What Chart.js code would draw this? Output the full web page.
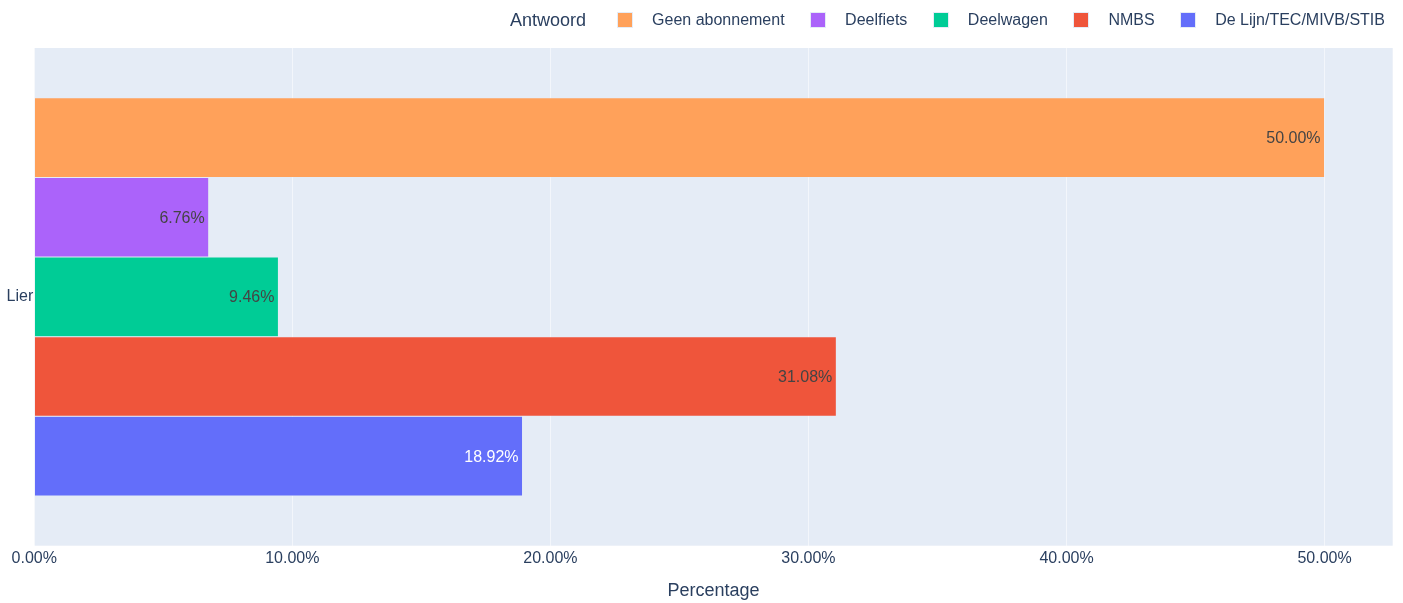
<!DOCTYPE html>
<html>
<head>
<meta charset="utf-8">
<script src="https://cdn.jsdelivr.net/npm/chart.js@4"></script>
<style>
  body { margin: 0; background: #fff; }
  #wrap { position: relative; width: 1403px; height: 603px; }
  #legend {
    position: absolute; top: 8px; left: 510px; height: 24px;
    display: flex; align-items: center;
    font-family: "Liberation Sans", Arial, sans-serif; color: #2a3f5f;
    white-space: nowrap;
  }
  #legend .title { font-size: 18px; margin-right: 31px; }
  #legend .item { display: flex; align-items: center; font-size: 16px; margin-right: 25.5px; }
  #legend .sw { flex-shrink: 0; width: 16px; height: 16px; margin-right: 19px; box-sizing: border-box; border: 0.5px solid #E5ECF6; }
</style>
</head>
<body>
<div id="wrap">
  <canvas id="chart" width="1403" height="603"></canvas>
  <div id="legend"></div>
</div>
<script>
// data
let categories = ["Lier"];
let seriesNames = ["Geen abonnement", "Deelfiets", "Deelwagen", "NMBS", "De Lijn/TEC/MIVB/STIB"];
let seriesValues = [50.00, 6.76, 9.46, 31.08, 18.92];
let seriesColors = ["#FFA15A", "#ab63fa", "#00cc96", "#EF553B", "#636efa"];
let labelColors = ["#444", "#444", "#444", "#444", "#fff"];
let xTicks = [0, 10, 20, 30, 40, 50];

const FONT = '"Liberation Sans", Arial, sans-serif';
const TEXT = "#2a3f5f";

// build html legend
let legend = document.getElementById("legend");
legend.innerHTML = `<span class="title">Antwoord</span>` + seriesNames.map((name, i) =>
    `<span class="item"><span class="sw" style="background:${seriesColors[i]}"></span>${name}</span>`
).join("");

// plot background
const bgPlugin = {
    id: "plotBg",
    beforeDraw(chart) {
        const { ctx, chartArea: a } = chart;
        ctx.save();
        ctx.fillStyle = "#E5ECF6";
        ctx.fillRect(a.left, a.top, a.right - a.left, a.bottom - a.top);
        ctx.restore();
    }
};

// value labels inside bar ends
const labelPlugin = {
    id: "barLabels",
    afterDatasetsDraw(chart) {
        const ctx = chart.ctx;
        ctx.save();
        ctx.font = "16px " + FONT;
        ctx.textAlign = "right";
        ctx.textBaseline = "middle";
        chart.data.datasets.forEach((ds, i) => {
            chart.getDatasetMeta(i).data.forEach((bar, j) => {
                ctx.fillStyle = labelColors[i];
                ctx.fillText(ds.data[j].toFixed(2) + "%", bar.x - 4, bar.y + 1);
            });
        });
        ctx.restore();
    }
};

new Chart(document.getElementById("chart"), {
    type: "bar",
    data: {
        labels: categories,
        datasets: seriesNames.map((name, i) => ({
            label: name,
            data: [seriesValues[i]],
            backgroundColor: seriesColors[i],
            borderColor: "#E5ECF6",
            borderWidth: 0.5,
            categoryPercentage: 0.8,
            barPercentage: 1.0
        }))
    },
    options: {
        indexAxis: "y",
        responsive: false,
        animation: false,
        devicePixelRatio: 1,
        layout: { padding: { top: 48, right: 10.3, left: 0, bottom: 0 } },
        plugins: { legend: { display: false }, tooltip: { enabled: false } },
        scales: {
            x: {
                min: 0,
                max: 52.64,
                afterBuildTicks: (scale) => { scale.ticks = xTicks.map(v => ({ value: v })); },
                afterFit: (scale) => { scale.height = 57.3; },
                grid: {
                    color: "rgba(255,255,255,0.55)",
                    lineWidth: 1,
                    drawTicks: false
                },
                border: { display: false },
                ticks: {
                    color: TEXT,
                    font: { family: FONT, size: 16 },
                    padding: 3,
                    maxRotation: 0,
                    callback: (v) => Number(v).toFixed(2) + "%"
                },
                title: {
                    display: true,
                    text: "Percentage",
                    color: TEXT,
                    font: { family: FONT, size: 18 },
                    padding: { top: 0, bottom: 1 }
                }
            },
            y: {
                afterFit: (scale) => { scale.width = 34.3; },
                grid: { display: false, drawTicks: false, tickLength: 0 },
                border: { display: false },
                ticks: {
                    color: TEXT,
                    font: { family: FONT, size: 16 },
                    padding: 1
                }
            }
        }
    },
    plugins: [bgPlugin, labelPlugin]
});
</script>
</body>
</html>
